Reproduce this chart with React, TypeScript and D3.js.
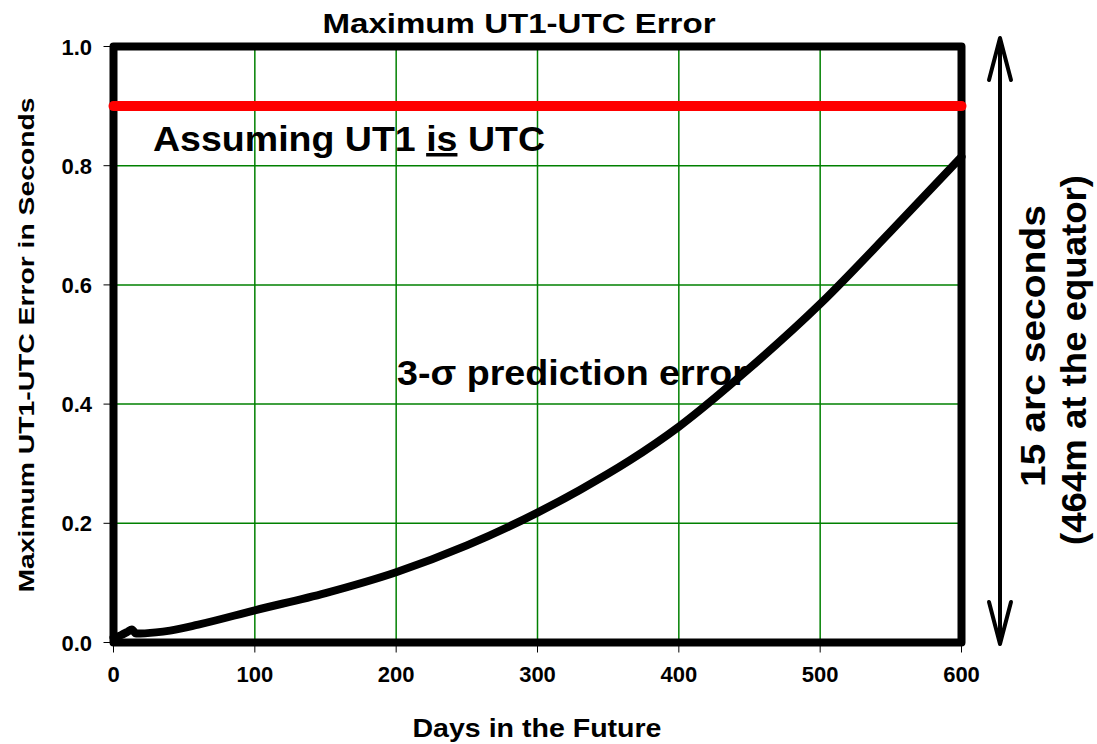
import * as d3 from 'd3'

// days in the future vs 3-sigma UT1-UTC prediction error (s)
const days = [0, 5, 10, 13, 16, 30, 40, 60, 100, 150, 200, 250, 300, 330, 365, 400, 450, 500, 550, 600]
const errors = [0.008, 0.012, 0.018, 0.022, 0.015, 0.017, 0.02, 0.03, 0.054, 0.083, 0.118, 0.163, 0.218, 0.256, 0.305, 0.362, 0.46, 0.568, 0.69, 0.815]
const utcAssumption = 0.9
const xTicks = [0, 100, 200, 300, 400, 500, 600]
const yTicks = [0, 0.2, 0.4, 0.6, 0.8, 1.0]

const W = 1097
const H = 744
const font = '"Liberation Sans", Arial, sans-serif'

export default function App() {
  const x = d3.scaleLinear().domain([0, 600]).range([113.5, 961.5])
  const y = d3.scaleLinear().domain([0, 1]).range([642.5, 46.5])

  const pts = days.map((d, i) => [d, errors[i]] as [number, number])
  const line = d3.line<[number, number]>()
    .x(d => x(d[0]))
    .y(d => y(d[1]))
    .curve(d3.curveMonotoneX)

  const arrowX = 1000

  return (
    <svg width={W} height={H} style={{ position: 'fixed', left: 0, top: 0, background: '#fff' }}
      fontFamily={font} fontWeight="bold">
      {/* grid */}
      {xTicks.slice(1, -1).map(t => (
        <line key={'gx' + t} x1={x(t)} x2={x(t)} y1={y(1)} y2={y(0)} stroke="#008000" strokeWidth={1.5} />
      ))}
      {yTicks.slice(1, -1).map(t => (
        <line key={'gy' + t} x1={x(0)} x2={x(600)} y1={y(t)} y2={y(t)} stroke="#008000" strokeWidth={1.5} />
      ))}

      {/* tick marks */}
      {xTicks.map(t => (
        <line key={'tx' + t} x1={x(t)} x2={x(t)} y1={y(0)} y2={y(0) + 10} stroke="#000" strokeWidth={1} />
      ))}
      {yTicks.map(t => (
        <line key={'ty' + t} x1={x(0) - 10} x2={x(0)} y1={y(t)} y2={y(t)} stroke="#000" strokeWidth={1} />
      ))}

      {/* frame */}
      <rect x={x(0)} y={y(1)} width={x(600) - x(0)} height={y(0) - y(1)}
        fill="none" stroke="#000" strokeWidth={8} strokeLinejoin="round" />

      {/* UT1 = UTC line */}
      <line x1={x(0)} x2={x(600)} y1={y(utcAssumption)} y2={y(utcAssumption)}
        stroke="#ff0000" strokeWidth={10} strokeLinecap="round" />

      {/* prediction error curve */}
      <path d={line(pts) || ''} fill="none" stroke="#000" strokeWidth={8}
        strokeLinejoin="round" strokeLinecap="round" />

      {/* tick labels */}
      {xTicks.map(t => (
        <text key={'lx' + t} x={x(t)} y={682} textAnchor="middle" fontSize={22}>{t}</text>
      ))}
      {yTicks.map(t => (
        <text key={'ly' + t} x={92} y={y(t) + 8} textAnchor="end" fontSize={22}>{t.toFixed(1)}</text>
      ))}

      {/* titles */}
      <text x={519} y={33} textAnchor="middle" fontSize={28} textLength={393} lengthAdjust="spacingAndGlyphs">
        Maximum UT1-UTC Error
      </text>
      <text x={537} y={737} textAnchor="middle" fontSize={25} textLength={249} lengthAdjust="spacingAndGlyphs">
        Days in the Future
      </text>
      <text transform={`translate(34,345) rotate(-90)`} textAnchor="middle" fontSize={22}
        textLength={495} lengthAdjust="spacingAndGlyphs">
        Maximum UT1-UTC Error in Seconds
      </text>

      {/* annotations */}
      <text x={153} y={151} fontSize={35} textLength={392} lengthAdjust="spacingAndGlyphs">
        Assuming UT1 <tspan style={{ textDecoration: 'underline' }}>is</tspan> UTC
      </text>
      <text x={397} y={385} fontSize={35} textLength={350} lengthAdjust="spacingAndGlyphs">
        3-σ prediction error
      </text>

      {/* right arrow */}
      <line x1={arrowX} x2={arrowX} y1={38} y2={644} stroke="#000" strokeWidth={4} />
      <polyline points={`${arrowX - 11},80 ${arrowX},38 ${arrowX + 11},80`} fill="none" stroke="#000"
        strokeWidth={4} strokeLinecap="round" strokeLinejoin="round" />
      <polyline points={`${arrowX - 11},602 ${arrowX},644 ${arrowX + 11},602`} fill="none" stroke="#000"
        strokeWidth={4} strokeLinecap="round" strokeLinejoin="round" />

      <text transform={`translate(1045,346) rotate(-90)`} textAnchor="middle" fontSize={35}
        textLength={282} lengthAdjust="spacingAndGlyphs">
        15 arc seconds
      </text>
      <text transform={`translate(1086,360) rotate(-90)`} textAnchor="middle" fontSize={35}
        textLength={370} lengthAdjust="spacingAndGlyphs">
        (464m at the equator)
      </text>
    </svg>
  )
}
